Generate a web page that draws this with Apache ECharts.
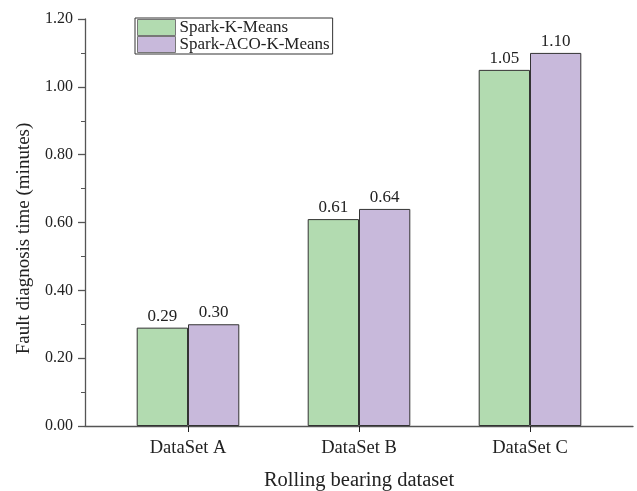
<!DOCTYPE html>
<html><head><meta charset="utf-8">
<script src="https://cdn.jsdelivr.net/npm/echarts@6/dist/echarts.min.js"></script>
<style>html,body{margin:0;padding:0;background:#fff}#c{width:637px;height:491px}</style>
</head><body><div id="c"></div>
<script>
var categories = ['DataSet A', 'DataSet B', 'DataSet C'];
var seriesNames = ['Spark-K-Means', 'Spark-ACO-K-Means'];
var sparkKMeans = [0.29, 0.61, 1.05];
var sparkAcoKMeans = [0.30, 0.64, 1.10];
var yTicks = { min: 0, max: 1.2, interval: 0.2 };

var font = 'Liberation Serif, Times New Roman, serif';
var axisColor = '#555';
var chart = echarts.init(document.getElementById('c'), null, { renderer: 'canvas' });
chart.setOption({
  animation: false,
  backgroundColor: '#fff',
  textStyle: { fontFamily: font },
  grid: [
    { left: 102.5, width: 513, top: 19, height: 407, outerBoundsMode: 'none', containLabel: false },
    { left: 85, width: 548, top: 19, height: 407, outerBoundsMode: 'none', containLabel: false }
  ],
  legend: {
    orient: 'vertical', left: 135, top: 18,
    data: seriesNames,
    icon: 'rect', itemWidth: 38, itemHeight: 16, itemGap: 0,
    padding: [1, 3, 1, 2],
    borderColor: '#333', borderWidth: 1,
    itemStyle: { borderColor: '#777', borderWidth: 1 },
    textStyle: { fontFamily: font, fontSize: 17, lineHeight: 17, color: '#222', padding: [0, 0, 0, -1] }
  },
  xAxis: [
    {
      type: 'category', gridIndex: 0, data: categories,
      boundaryGap: true,
      axisLine: { show: false },
      axisTick: { show: true, alignWithLabel: true, length: 6, lineStyle: { color: '#222' } },
      axisLabel: { fontFamily: font, fontSize: 18.5, color: '#222', margin: 13 },
      name: 'Rolling bearing dataset', nameLocation: 'middle', nameGap: 44,
      nameTextStyle: { fontFamily: font, fontSize: 20.5, color: '#222' }
    },
    {
      type: 'value', gridIndex: 1, min: 0, max: 1,
      axisLine: { show: true, lineStyle: { color: axisColor, width: 1.3 } },
      axisTick: { show: false }, axisLabel: { show: false }, splitLine: { show: false }
    }
  ],
  yAxis: [
    { type: 'value', gridIndex: 0, min: yTicks.min, max: yTicks.max, show: false },
    {
      type: 'value', gridIndex: 1, min: yTicks.min, max: yTicks.max, interval: yTicks.interval,
      axisLine: { show: true, lineStyle: { color: axisColor, width: 1.3 } },
      axisTick: { show: true, inside: false, length: 7, lineStyle: { color: axisColor, width: 1.3 } },
      minorTick: { show: true, splitNumber: 2, length: 4, lineStyle: { color: axisColor, width: 1 } },
      splitLine: { show: false },
      axisLabel: { fontFamily: font, fontSize: 16, color: '#222', margin: 12,
        formatter: function (v) { return v.toFixed(2); } },
      name: 'Fault diagnosis time (minutes)', nameLocation: 'middle', nameGap: 51,
      nameTextStyle: { fontFamily: font, fontSize: 19, color: '#222', padding: [0, 32, 0, 0] }
    }
  ],
  series: [
    {
      name: seriesNames[0], type: 'bar', xAxisIndex: 0, yAxisIndex: 0,
      data: sparkKMeans, barGap: '0%', barCategoryGap: '40%',
      itemStyle: { color: '#b2dbb0', borderColor: '#333', borderWidth: 1 },
      label: { show: true, position: 'top', distance: 3, fontFamily: font, fontSize: 17, color: '#222',
        formatter: function (p) { return p.value.toFixed(2); } }
    },
    {
      name: seriesNames[1], type: 'bar', xAxisIndex: 0, yAxisIndex: 0,
      data: sparkAcoKMeans, barGap: '0%', barCategoryGap: '40%',
      itemStyle: { color: '#c8b9db', borderColor: '#333', borderWidth: 1 },
      label: { show: true, position: 'top', distance: 3, fontFamily: font, fontSize: 17, color: '#222',
        formatter: function (p) { return p.value.toFixed(2); } }
    }
  ]
});
</script></body></html>
